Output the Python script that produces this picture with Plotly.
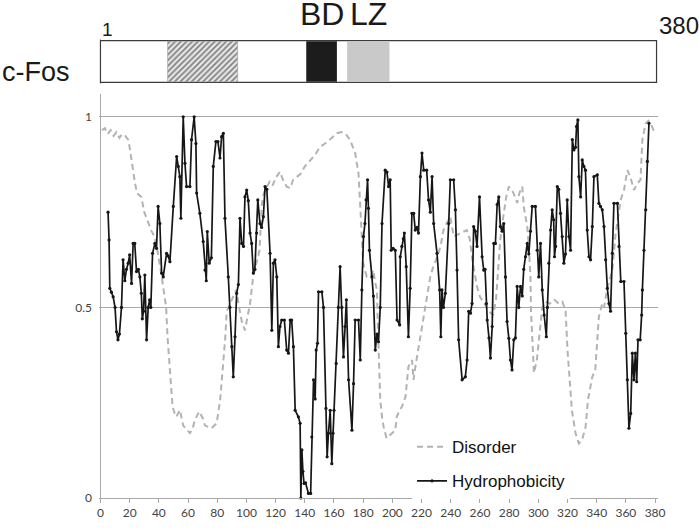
import plotly.graph_objects as go

# ---------------- data ----------------
DISORDER_X = [1, 3, 5, 7, 9, 11, 13, 15, 17, 19, 20, 22, 23.5, 25, 28, 30, 32.7, 35, 37, 39, 42, 44, 45, 46,
              47.5, 49.4, 51, 52, 54.4, 56.7, 59, 61.3, 63, 64.7, 67.7, 70, 71.6, 74, 76, 78, 79.6, 82, 84,
              85.5, 86.5, 88.8, 91, 93, 95, 97, 99, 100.5, 102.5, 104.6, 107, 109, 110.5, 112, 114, 116, 118,
              120, 123, 125, 127.6, 130, 132, 134.5, 137, 140, 143.6, 147, 150.5, 154, 157, 160, 162, 165,
              167.7, 171, 173, 174.5, 176, 176.8, 178, 179, 180, 181, 182.5, 185, 187, 188, 189.4, 190, 190.5,
              191.7, 193, 194, 196, 198, 199.7, 202, 203, 205, 206.6, 209, 210, 211, 213.5, 214.5, 216, 218,
              220, 221.5, 223.7, 226, 228, 230.5, 233, 235, 237, 239.7, 242, 244, 246.6, 249, 251, 253, 255,
              258, 260, 263, 266, 269, 271, 272.5, 274, 276, 278, 279.8, 281.5, 283, 285.5, 287, 289, 290,
              292.4, 293.5, 294.6, 295, 295.8, 297, 299, 301.5, 302.7, 305, 308, 311, 314, 316.5, 318.7, 320,
              321.6, 323, 325.5, 327.8, 330, 332.4, 334, 337, 339, 340.4, 341.5, 343.8, 345, 347, 350.7, 353,
              356.4, 358.7, 361, 363, 365.5, 368, 370, 371.3, 373.6, 375.5, 377, 379.3]
DISORDER_Y = [0.965, 0.97, 0.955, 0.965, 0.95, 0.96, 0.945, 0.955, 0.95, 0.94, 0.92, 0.86, 0.83, 0.80, 0.79,
              0.75, 0.72, 0.70, 0.686, 0.65, 0.58, 0.53, 0.50, 0.42, 0.345, 0.24, 0.22, 0.213, 0.231, 0.19,
              0.18, 0.17, 0.18, 0.205, 0.227, 0.21, 0.19, 0.185, 0.183, 0.19, 0.196, 0.257, 0.345, 0.42, 0.49,
              0.51, 0.53, 0.546, 0.50, 0.46, 0.44, 0.47, 0.51, 0.58, 0.62, 0.65, 0.77, 0.80, 0.817, 0.83, 0.82,
              0.84, 0.856, 0.835, 0.817, 0.813, 0.835, 0.843, 0.85, 0.87, 0.887, 0.90, 0.922, 0.93, 0.94, 0.95,
              0.957, 0.96, 0.957, 0.94, 0.92, 0.905, 0.87, 0.852, 0.765, 0.695, 0.616, 0.60, 0.58, 0.58, 0.598,
              0.57, 0.546, 0.46, 0.388, 0.257, 0.21, 0.187, 0.157, 0.165, 0.17, 0.178, 0.213, 0.23, 0.24,
              0.266, 0.31, 0.345, 0.362, 0.31, 0.35, 0.397, 0.44, 0.48, 0.52, 0.58, 0.607, 0.63, 0.66, 0.703,
              0.72, 0.738, 0.686, 0.69, 0.695, 0.70, 0.703, 0.68, 0.62, 0.555, 0.528, 0.51, 0.49, 0.48, 0.52,
              0.60, 0.68, 0.738, 0.79, 0.817, 0.81, 0.80, 0.774, 0.80, 0.817, 0.765, 0.712, 0.66, 0.58, 0.49,
              0.406, 0.328, 0.362, 0.45, 0.50, 0.515, 0.51, 0.52, 0.51, 0.515, 0.49, 0.388, 0.30, 0.23, 0.17,
              0.143, 0.152, 0.187, 0.257, 0.318, 0.336, 0.406, 0.476, 0.51, 0.50, 0.546, 0.598, 0.695, 0.782,
              0.808, 0.86, 0.843, 0.808, 0.826, 0.835, 0.94, 0.983, 0.99, 0.983, 0.961]

HYDRO_X = [5.2, 5.9, 6.4, 7.5, 8.7, 10, 11, 12, 13, 14.4, 15.5, 16.7, 17.8, 19, 20, 21.3, 22.4, 23.5, 24.7, 26,
           27, 28, 28.7, 29.5, 30.4, 31.6, 32.7, 33.7, 34.5, 35.7, 37.3, 38.4, 39.5, 40.7, 41.9, 43, 45.3,
           46.4, 47.6, 49.9, 52.2, 53.3, 54.4, 55.1, 56.7, 57.9, 59, 61.3, 62.4, 64.2, 65.4, 65.9, 68.1, 70.4,
           71.6, 72.5, 73.2, 74.5, 76, 77.3, 79.1, 80.5, 81.9, 83, 84.2, 85.3, 87.6, 88.7, 90, 91, 92.2, 93.3,
           94.5, 95.6, 96.8, 98, 99, 100.2, 101.3, 102.5, 103.6, 104.7, 105.8, 107, 107.8, 109.3, 110.4, 111.6,
           112.8, 114, 116.2, 117.4, 118.5, 119.6, 120.8, 121.9, 123, 124.2, 126, 127.6, 128.8, 130, 131,
           132.2, 133.4, 135.6, 136.8, 137.3, 138, 138.7, 139.5, 140.5, 142.5, 144, 144.8, 146, 147.1, 147.8,
           148.7, 149.4, 151.7, 152.8, 154.5, 155.3, 156.2, 157.4, 158.5, 159.3, 160, 161.5, 163, 164.2, 165.4,
           166.5, 167.6, 168.5, 170, 172.3, 173.4, 174.5, 176.8, 178, 179.1, 180.2, 181.2, 182, 183, 183.6,
           184.3, 186, 187, 188.3, 189.4, 190.5, 191.7, 192.9, 195.1, 196.3, 197.4, 198.5, 199.2, 200.5, 202,
           203.2, 205, 205.4, 206.5, 207.5, 208.2, 209.5, 211, 212.2, 213.4, 214.6, 215.7, 216.8, 217.9,
           219.2, 220.3, 221.5, 223.5, 224.8, 226, 227.2, 228.3, 230.6, 232.4, 233.2, 234, 235, 236.3, 238.6,
           239.7, 242, 243.2, 244.3, 245.4, 247.8, 250, 251.2, 252.3, 253.5, 254.6, 255.7, 256.8, 258, 259.7,
           261.5, 262.6, 263.5, 264.4, 265, 266.2, 267.2, 268.4, 269.5, 270.6, 271.8, 272.9, 274, 275.2,
           276.3, 277.5, 278.6, 279.8, 280.9, 282, 283.2, 284.3, 285.5, 286.6, 287.8, 289, 290, 291.2, 292.4,
           293.5, 294.6, 295.8, 298, 299.2, 300.3, 301.5, 302.7, 304, 305.5, 306.2, 307.2, 308.4, 309.5,
           310.5, 311.1, 311.8, 313, 314, 315.2, 316.4, 317.5, 318.6, 319.8, 321, 322.1, 323.3, 324.4, 325.5,
           326.2, 327.1, 327.8, 329, 330.1, 331.2, 332.3, 333.5, 334.7, 335.8, 337, 338.1, 340.4, 341.5,
           342.6, 343.8, 345, 346.1, 347.3, 348.4, 349.5, 350.7, 351.8, 354.2, 355.3, 356.5, 358.7, 359.9,
           361, 362.1, 363.3, 364.4, 365.5, 366.5, 367.4, 368.3, 369.8, 370.8, 371.3, 372.4, 373.6, 374.7,
           375.8]
HYDRO_Y = [0.75, 0.677, 0.55, 0.54, 0.528, 0.50, 0.436, 0.415, 0.43, 0.50, 0.625, 0.57, 0.60, 0.616, 0.638,
           0.563, 0.668, 0.668, 0.594, 0.60, 0.58, 0.537, 0.47, 0.49, 0.585, 0.415, 0.50, 0.52, 0.50, 0.642,
           0.668, 0.655, 0.765, 0.72, 0.59, 0.58, 0.642, 0.635, 0.62, 0.765, 0.896, 0.87, 0.843, 0.734, 1.0,
           0.878, 0.817, 0.817, 0.94, 1.0, 0.93, 0.80, 0.747, 0.673, 0.598, 0.57, 0.699, 0.616, 0.63, 0.87,
           0.935, 0.935, 0.892, 0.948, 0.957, 0.734, 0.58, 0.50, 0.397, 0.318, 0.423, 0.537, 0.56, 0.734,
           0.668, 0.66, 0.79, 0.808, 0.78, 0.695, 0.668, 0.59, 0.60, 0.695, 0.782, 0.72, 0.71, 0.738, 0.817,
           0.81, 0.642, 0.44, 0.616, 0.625, 0.58, 0.397, 0.45, 0.467, 0.467, 0.388, 0.38, 0.467, 0.467, 0.397,
           0.23, 0.213, 0.196, 0.0, 0.126, 0.07, 0.038, 0.04, 0.012, 0.012, 0.16, 0.31, 0.26, 0.388, 0.406,
           0.541, 0.541, 0.50, 0.235, 0.108, 0.17, 0.23, 0.09, 0.17, 0.23, 0.353, 0.50, 0.607, 0.50, 0.37,
           0.45, 0.52, 0.31, 0.178, 0.30, 0.467, 0.467, 0.362, 0.546, 0.686, 0.72, 0.782, 0.835, 0.76, 0.65,
           0.58, 0.53, 0.388, 0.43, 0.41, 0.50, 0.72, 0.86, 0.855, 0.817, 0.835, 0.65, 0.655, 0.65, 0.467,
           0.454, 0.633, 0.66, 0.68, 0.695, 0.607, 0.423, 0.55, 0.747, 0.747, 0.703, 0.71, 0.695, 0.843, 0.905,
           0.86, 0.86, 0.782, 0.75, 0.843, 0.72, 0.642, 0.546, 0.423, 0.546, 0.50, 0.537, 0.72, 0.835, 0.835,
           0.756, 0.598, 0.415, 0.31, 0.318, 0.362, 0.49, 0.485, 0.51, 0.712, 0.70, 0.66, 0.79, 0.633, 0.598,
           0.60, 0.51, 0.467, 0.42, 0.367, 0.45, 0.668, 0.668, 0.77, 0.79, 0.712, 0.70, 0.72, 0.58, 0.463,
           0.419, 0.362, 0.336, 0.415, 0.42, 0.555, 0.50, 0.555, 0.53, 0.60, 0.633, 0.668, 0.64, 0.70, 0.765,
           0.765, 0.65, 0.58, 0.668, 0.546, 0.48, 0.423, 0.50, 0.616, 0.703, 0.756, 0.73, 0.633, 0.66, 0.817,
           0.81, 0.747, 0.686, 0.616, 0.64, 0.782, 0.686, 0.65, 0.94, 0.913, 0.92, 0.975, 0.992, 0.843, 0.79,
           0.887, 0.87, 0.86, 0.703, 0.633, 0.625, 0.712, 0.843, 0.848, 0.773, 0.765, 0.756, 0.712, 0.625,
           0.55, 0.51, 0.49, 0.642, 0.773, 0.773, 0.66, 0.568, 0.568, 0.432, 0.31, 0.183, 0.222, 0.38, 0.31,
           0.38, 0.305, 0.415, 0.415, 0.48, 0.546, 0.65, 0.756, 0.883, 0.983]

SERIES_NAMES = ["Disorder", "Hydrophobicity"]
PROTEIN_NAME = "c-Fos"
PROTEIN_START, PROTEIN_END = 1, 380
# domain boxes: (label, start, end, style)
DOMAINS = [("", 46, 94, "hatch"), ("BD", 141, 162, "black"), ("LZ", 169, 198, "gray")]
X_TICKS = list(range(0, 381, 20))
Y_TICKS = [0, 0.5, 1]
Y_TICK_TEXT = ["0", "0.5", "1"]

# ---------------- figure ----------------
AX_GRAY = "#a9a9a9"
fig = go.Figure()

# protein diagram (horizontal bars on yaxis2)
fig.add_trace(go.Bar(x=[PROTEIN_END + 1 - (PROTEIN_START - 1)], base=[PROTEIN_START - 1], y=[0],
                     orientation="h", width=1, xaxis="x", yaxis="y2",
                     marker=dict(color="white", line=dict(color="#3a3a3a", width=1.2)),
                     showlegend=False, hoverinfo="skip"))
for label, s, e, style in DOMAINS:
    if style == "hatch":
        marker = dict(color="white",
                      pattern=dict(shape="/", fgcolor="#1a1a1a", bgcolor="#e8e8e8", size=4, solidity=0.45),
                      line=dict(color="#9a9a9a", width=0.6))
    elif style == "black":
        marker = dict(color="#1c1c1c", line=dict(width=0))
    else:
        marker = dict(color="#c9c9c9", line=dict(width=0))
    fig.add_trace(go.Bar(x=[e - s], base=[s], y=[0], orientation="h", width=0.97,
                         xaxis="x", yaxis="y2", marker=marker, showlegend=False, hoverinfo="skip"))
    if label:
        fig.add_annotation(x=(s + e) / 2, xref="x", y=0.991, yref="paper", text=label,
                           showarrow=False, font=dict(family="Liberation Sans, Arial", size=32, color="#1a1a1a"),
                           yanchor="middle")

# series
fig.add_trace(go.Scatter(x=DISORDER_X, y=DISORDER_Y, mode="lines", name=SERIES_NAMES[0],
                         line=dict(color="#b3b3b3", width=2, dash="6px,4px"), cliponaxis=False))
fig.add_trace(go.Scatter(x=HYDRO_X, y=HYDRO_Y, mode="lines+markers", name=SERIES_NAMES[1],
                         line=dict(color="#161616", width=1.7),
                         marker=dict(color="#161616", size=3.2), cliponaxis=False))

txt_font = dict(family="Liberation Sans, Arial", color="#1a1a1a")
fig.add_annotation(x=PROTEIN_START - 1, xref="x", y=0.961, yref="paper", text=str(PROTEIN_START),
                   showarrow=False, xanchor="left", yanchor="middle", font=dict(size=19, **txt_font))
fig.add_annotation(x=PROTEIN_END + 1, xref="x", y=0.969, yref="paper", text=str(PROTEIN_END),
                   showarrow=False, xanchor="left", yanchor="middle", font=dict(size=24, **txt_font))
fig.add_annotation(x=-0.048, xref="paper", y=0.873, yref="paper", text=PROTEIN_NAME,
                   showarrow=False, xanchor="right", yanchor="middle", font=dict(size=27, **txt_font))

tick_font = dict(family="Lato, Open Sans, sans-serif", size=12, color="#444444")
fig.update_layout(
    width=699, height=531,
    margin=dict(l=99, r=41, t=10, b=33),
    paper_bgcolor="white", plot_bgcolor="white",
    barmode="overlay",
    showlegend=True,
    legend=dict(x=0.56, y=0.141, xanchor="left", yanchor="top", bgcolor="white",
                font=dict(family="Liberation Sans, Arial", size=17, color="#111111"),
                tracegroupgap=9, traceorder="grouped"),
    xaxis=dict(range=[-1, 382], tickvals=X_TICKS, ticks="outside", ticklen=4, tickcolor=AX_GRAY,
               showline=True, linecolor=AX_GRAY, linewidth=1, showgrid=False,
               zeroline=True, zerolinecolor=AX_GRAY, zerolinewidth=1,
               tickfont=tick_font, anchor="y"),
    yaxis=dict(domain=[0, 0.8279], range=[0, 1.06], tickvals=Y_TICKS, ticktext=Y_TICK_TEXT,
               showgrid=True, gridcolor=AX_GRAY, gridwidth=1, zeroline=False, showline=False,
               tickfont=tick_font, ticklabelstandoff=6, anchor="x"),
    yaxis2=dict(domain=[0.8475, 0.9414], range=[-0.55, 0.55], visible=False, anchor="x", fixedrange=True),
)
fig.data[-2].legendgroup = "a"
fig.data[-1].legendgroup = "b"

fig.write_html("out.html", config={"displayModeBar": False},
               post_script="document.body.style.margin='0';document.body.style.overflow='hidden';")
